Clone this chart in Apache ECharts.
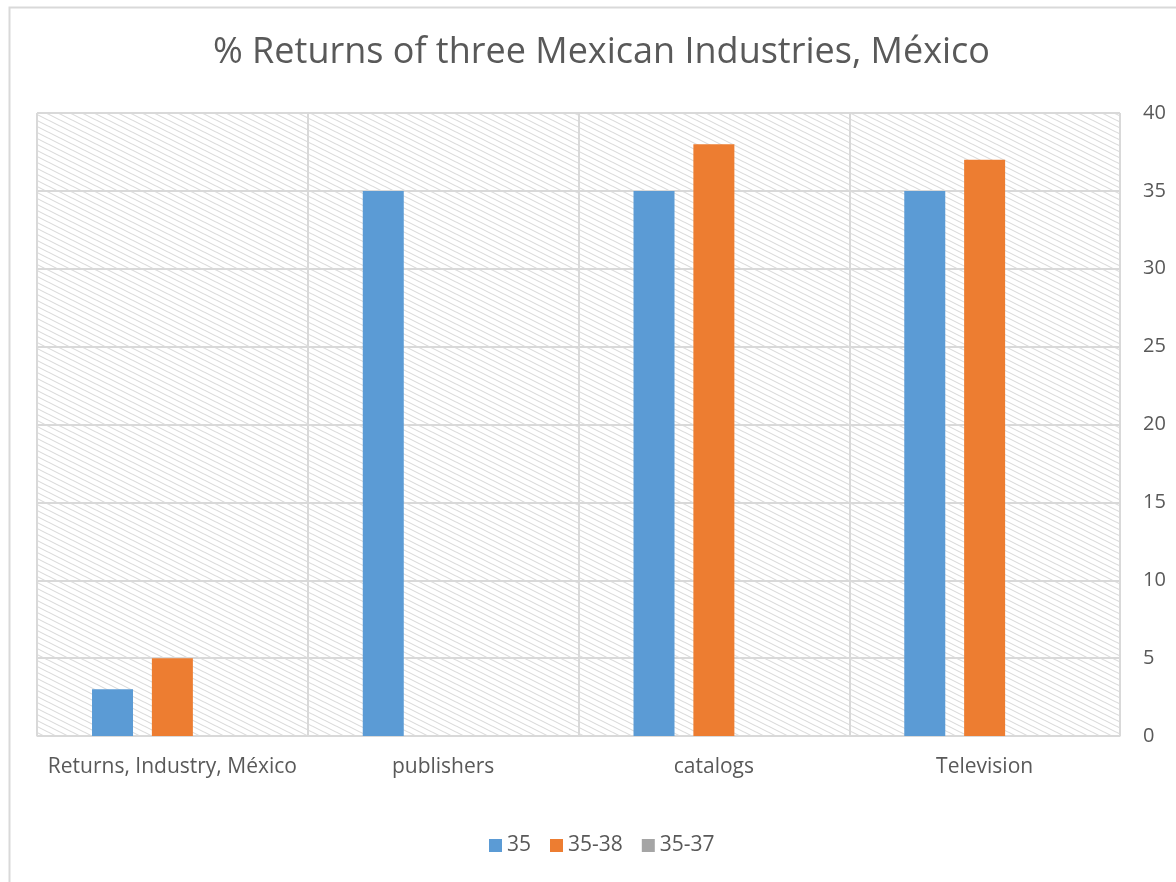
<!DOCTYPE html>
<html>
<head>
<meta charset="utf-8">
<script src="https://cdn.jsdelivr.net/npm/echarts@6/dist/echarts.min.js"></script>
<style>
  html, body { margin: 0; padding: 0; background: #fff; }
  #chart { width: 1176px; height: 882px; }
</style>
</head>
<body>
<div id="chart"></div>
<script>
// Categories and series values
const categories = ['Returns, Industry, México', 'publishers', 'catalogs', 'Television'];
const seriesNames = ['35', '35-38', '35-37'];
const values35 = [3, 35, 35, 35];
const values3538 = [5, null, 38, 37];
const values3537 = [null, null, null, null];
const yTicks = [0, 5, 10, 15, 20, 25, 30, 35, 40];

const colors = ['#5B9BD5', '#ED7D31', '#A5A5A5'];
const textColor = '#595959';
const lineColor = '#D9D9D9';
const fontFamily = '"Open Sans", Lato, sans-serif';

// Diagonal hatch tile for the plot background
function hatchPattern() {
  const c = document.createElement('canvas');
  c.width = 12; c.height = 6;
  const g = c.getContext('2d');
  g.fillStyle = '#ffffff';
  g.fillRect(0, 0, 12, 6);
  g.strokeStyle = '#dadada';
  g.lineWidth = 1.1;
  g.beginPath();
  g.moveTo(-12, -6); g.lineTo(24, 12);
  g.moveTo(-12, 0); g.lineTo(12, 12);
  g.moveTo(0, -6); g.lineTo(24, 6);
  g.stroke();
  return c;
}

const chart = echarts.init(document.getElementById('chart'), null, { renderer: 'canvas' });

const seriesData = [values35, values3538, values3537];

chart.setOption({
  animation: false,
  color: colors,
  textStyle: { fontFamily: fontFamily },
  graphic: [{
    type: 'rect',
    left: 7, top: 5,
    shape: { width: 1200, height: 900 },
    style: { fill: 'none', stroke: lineColor, lineWidth: 2 },
    silent: true,
    z: -10
  }],
  title: {
    text: '% Returns of three Mexican Industries, México',
    left: 208,
    top: 30,
    textStyle: { color: textColor, fontSize: 36, fontWeight: 'normal', fontFamily: fontFamily }
  },
  legend: {
    data: seriesNames,
    bottom: 21,
    left: 484,
    icon: 'rect',
    itemWidth: 13,
    itemHeight: 13,
    itemGap: 19,
    textStyle: { color: textColor, fontSize: 21, fontFamily: fontFamily }
  },
  grid: {
    left: 37, right: 56, top: 113, bottom: 146,
    show: true,
    backgroundColor: { image: hatchPattern(), repeat: 'repeat' },
    borderWidth: 0
  },
  xAxis: {
    type: 'category',
    data: categories,
    axisLine: { show: true, lineStyle: { color: lineColor, width: 1.5 } },
    axisTick: { show: false },
    splitLine: { show: true, lineStyle: { color: lineColor, width: 2 } },
    axisLabel: { color: textColor, fontSize: 21, margin: 21, fontFamily: fontFamily, interval: 0 }
  },
  yAxis: {
    type: 'value',
    position: 'right',
    min: yTicks[0],
    max: yTicks[yTicks.length - 1],
    interval: yTicks[1] - yTicks[0],
    axisLine: { show: false },
    axisTick: { show: false },
    splitLine: { show: true, lineStyle: { color: lineColor, width: 2 } },
    axisLabel: { color: textColor, fontSize: 20, margin: 23, align: 'left', fontFamily: fontFamily }
  },
  series: seriesNames.map((name, i) => ({
    name: name,
    type: 'bar',
    data: seriesData[i],
    barWidth: 41,
    barGap: '46%',
    itemStyle: { color: colors[i] }
  }))
});
</script>
</body>
</html>
